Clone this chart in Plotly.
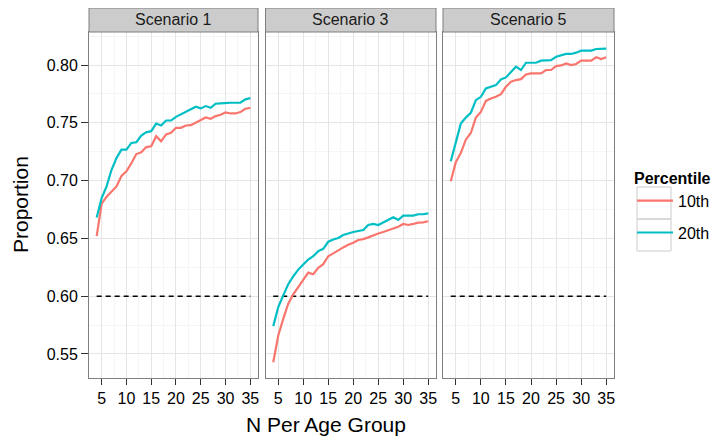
import plotly.graph_objects as go

n_per_group = list(range(4, 36))
scenarios = ["Scenario 1", "Scenario 3", "Scenario 5"]
percentiles = ["10th", "20th"]

s1_10th = [0.652, 0.680, 0.686, 0.691, 0.695, 0.704, 0.708, 0.715, 0.723, 0.7245, 0.729, 0.7297,
           0.7384, 0.734, 0.740, 0.7413, 0.7457, 0.7457, 0.7477, 0.748, 0.750, 0.7523, 0.7546,
           0.7535, 0.7558, 0.757, 0.759, 0.7581, 0.7581, 0.7593, 0.7622, 0.763]
s1_20th = [0.668, 0.6848, 0.695, 0.7094, 0.7196, 0.7268, 0.7268, 0.7326, 0.7332, 0.739, 0.7419,
           0.7428, 0.7494, 0.7477, 0.752, 0.752, 0.7552, 0.7572, 0.7593, 0.7616, 0.7639, 0.7625,
           0.7645, 0.763, 0.7665, 0.7668, 0.7674, 0.7674, 0.7674, 0.7674, 0.7703, 0.7714]
s3_10th = [0.5428, 0.566, 0.5804, 0.5935, 0.6016, 0.608, 0.6143, 0.6204, 0.619, 0.6245, 0.6277,
           0.6346, 0.637, 0.6399, 0.6422, 0.6445, 0.6462, 0.6486, 0.6494, 0.6509, 0.6529, 0.6543,
           0.6555, 0.6572, 0.6587, 0.6601, 0.6625, 0.6616, 0.6625, 0.6636, 0.6639, 0.6648]
s3_20th = [0.5741, 0.5906, 0.6007, 0.6103, 0.6172, 0.623, 0.6274, 0.6317, 0.6346, 0.639, 0.641,
           0.6471, 0.6491, 0.6503, 0.6529, 0.6543, 0.6555, 0.6564, 0.6572, 0.6616, 0.6625, 0.6616,
           0.6636, 0.6659, 0.6683, 0.6659, 0.6697, 0.6697, 0.6697, 0.6709, 0.6709, 0.6717]
s5_10th = [0.6994, 0.716, 0.7238, 0.7354, 0.7412, 0.7545, 0.7594, 0.769, 0.771, 0.7725, 0.7748,
           0.7812, 0.7855, 0.787, 0.7878, 0.7919, 0.7928, 0.7928, 0.7928, 0.7957, 0.7957, 0.7991,
           0.7997, 0.8014, 0.800, 0.8009, 0.8038, 0.8038, 0.8038, 0.8067, 0.8052, 0.8067]
s5_20th = [0.7168, 0.7333, 0.7493, 0.7545, 0.7586, 0.7696, 0.7725, 0.7797, 0.7812, 0.7826, 0.7875,
           0.7893, 0.7939, 0.7986, 0.7957, 0.802, 0.802, 0.802, 0.8038, 0.8043, 0.8043, 0.8072,
           0.8087, 0.8096, 0.8096, 0.8107, 0.8125, 0.8125, 0.8125, 0.8139, 0.8142, 0.8142]

threshold_x = [4, 35]
threshold_y = [0.60, 0.60]

series = {
    "Scenario 1": (s1_10th, s1_20th),
    "Scenario 3": (s3_10th, s3_20th),
    "Scenario 5": (s5_10th, s5_20th),
}
colors = {"10th": "#F8766D", "20th": "#00BFC4"}

FONT = "Liberation Sans, Arial, sans-serif"
OFF = 8  # page body margin offset
W, H = 728 - OFF, 442 - OFF
PL, PR, PT, PB = 89, 614, 32, 378  # plot area in page pixels
ML, MT = PL - OFF, PT - OFF
PW, PH = PR - PL, PB - PT
MR, MB = W - ML - PW, H - MT - PH


def pxx(page_x):
    return (page_x - PL) / PW


def pxy(page_y):
    return (PB - page_y) / PH


px_domains = [(89, 258), (265.5, 436), (443, 614)]
domains = [(pxx(a), pxx(b)) for a, b in px_domains]

fig = go.Figure()
for i, sc in enumerate(scenarios):
    xa = "x" if i == 0 else f"x{i+1}"
    ya = "y" if i == 0 else f"y{i+1}"
    fig.add_trace(go.Scatter(x=threshold_x, y=threshold_y, mode="lines",
                             line=dict(color="black", width=1.5, dash="5px,4px"),
                             xaxis=xa, yaxis=ya, showlegend=False, hoverinfo="skip"))
    for p, vals in zip(percentiles, series[sc]):
        fig.add_trace(go.Scatter(x=n_per_group, y=vals, mode="lines", name=p,
                                 line=dict(color=colors[p], width=2.2),
                                 legendgroup=p, showlegend=(i == 0),
                                 xaxis=xa, yaxis=ya))

axis_common = dict(showline=True, mirror=True, linecolor="#7F7F7F", linewidth=1,
                   gridcolor="#E5E5E5", gridwidth=1, zeroline=False)
layout = dict(
    width=W, height=H, margin=dict(l=ML, r=MR, t=MT, b=MB),
    paper_bgcolor="white", plot_bgcolor="white",
    font=dict(family=FONT, size=16, color="black"),
    legend=dict(x=pxx(632), xanchor="left", y=pxy(163), yanchor="top",
                title=dict(text="<b>Percentile</b>", font=dict(size=16)),
                font=dict(size=16), tracegroupgap=8, itemwidth=36,
                bgcolor="rgba(0,0,0,0)"),
    shapes=[], annotations=[],
)
for i in range(3):
    xk = "xaxis" if i == 0 else f"xaxis{i+1}"
    yk = "yaxis" if i == 0 else f"yaxis{i+1}"
    ya = "y" if i == 0 else f"y{i+1}"
    layout[xk] = dict(axis_common, domain=list(domains[i]), anchor=ya,
                      range=[2.45, 36.55], tickvals=[5, 10, 15, 20, 25, 30, 35],
                      ticks="outside", ticklen=6, tickcolor="#333333",
                      minor=dict(dtick=2.5, tick0=0, showgrid=True, gridcolor="#F5F5F5"))
    ydict = dict(axis_common, domain=[0, 1], anchor="x" if i == 0 else f"x{i+1}",
                 range=[0.5292, 0.8286], dtick=0.05, tick0=0, tickformat=".2f",
                 minor=dict(dtick=0.025, tick0=0, showgrid=True, gridcolor="#F5F5F5"))
    if i == 0:
        ydict.update(ticks="outside", ticklen=7, tickcolor="#333333", showticklabels=True)
    else:
        ydict.update(ticks="", showticklabels=False, matches="y")
    layout[yk] = ydict
    x0, x1 = domains[i]
    layout["shapes"].append(dict(type="rect", xref="paper", yref="paper",
                                 x0=x0, x1=x1, y0=1, y1=pxy(8),
                                 fillcolor="#CCCCCC", line=dict(color="#7F7F7F", width=1)))
    layout["annotations"].append(dict(text=scenarios[i], xref="paper", yref="paper",
                                      x=(x0 + x1) / 2, y=pxy(20), showarrow=False,
                                      xanchor="center", yanchor="middle",
                                      font=dict(size=16, color="#1a1a1a")))

# legend key boxes (theme_bw style)
for y0, y1 in [(187, 219), (219, 251)]:
    layout["shapes"].append(dict(type="rect", xref="paper", yref="paper",
                                 x0=pxx(637), x1=pxx(671), y0=pxy(y1), y1=pxy(y0),
                                 fillcolor="rgba(0,0,0,0)", line=dict(color="#CCCCCC", width=1)))

layout["annotations"].append(dict(text="Proportion", xref="paper", yref="paper",
                                  x=pxx(20), y=pxy(205), textangle=-90, showarrow=False,
                                  xanchor="center", yanchor="middle", font=dict(size=21)))
layout["annotations"].append(dict(text="N Per Age Group", xref="paper", yref="paper",
                                  x=pxx(326), y=pxy(424), showarrow=False,
                                  xanchor="center", yanchor="middle", font=dict(size=21)))
fig.update_layout(**layout)
fig.write_html("out.html")
